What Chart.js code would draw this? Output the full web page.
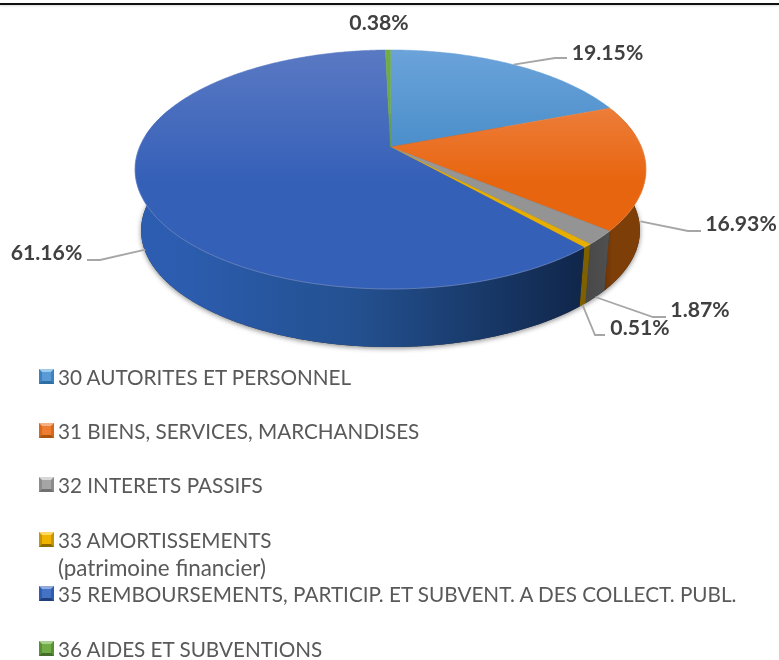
<!DOCTYPE html>
<html>
<head>
<meta charset="utf-8">
<title>Charges par nature</title>
<script src="https://cdn.jsdelivr.net/npm/chart.js@4/dist/chart.umd.min.js"></script>
<style>
    html, body { margin: 0; padding: 0; background: #fff; }
    #wrap { position: relative; width: 779px; height: 660px; overflow: hidden; }
    #top-rule { position: absolute; left: 0; right: 0; top: 3px; height: 2px; background: #111; box-shadow: 0 1px 2px rgba(0,0,0,.15); }
    #chart { position: absolute; left: 0; top: 0; }
    .legend-row { position: absolute; left: 39px; color: #595959; font: 20.7px Lato, sans-serif; line-height: 28px; white-space: nowrap; padding-left: 19px; }
    .legend-row .sub { display: block; font-size: 22.4px; }
    .swatch { position: absolute; left: 0; top: 6px; width: 9px; height: 9px; border-style: solid; border-width: 3px; }
</style>
</head>
<body>
<div id="wrap">
    <canvas id="chart" width="779" height="660"></canvas>
    <div id="top-rule"></div>
    <div id="legend"></div>
</div>
<script>
const categories = [
    '30 AUTORITES ET PERSONNEL',
    '31 BIENS, SERVICES, MARCHANDISES',
    '32 INTERETS PASSIFS',
    '33 AMORTISSEMENTS\n(patrimoine financier)',
    '35 REMBOURSEMENTS, PARTICIP. ET SUBVENT. A DES COLLECT. PUBL.',
    '36 AIDES ET SUBVENTIONS'
];
const shares = [19.15, 16.93, 1.87, 0.51, 61.16, 0.38];

// colours: top surface [upper, lower], side [left, right]
const topColors = [
    ['#6ba3da', '#3f87c4'],
    ['#f0905a', '#e8650f'],
    ['#a9a9a9', '#949494'],
    ['#ffc000', '#e8ae00'],
    ['#5a79c3', '#3560b8'],
    ['#70ad47', '#6aa543']
];
const sideColors = [
    ['#2e6a9c', '#2e6a9c'],
    ['#6b3305', '#7d3e08'],
    ['#484848', '#505050'],
    ['#7f6000', '#7f6000'],
    ['#2c5db0', '#10264a'],
    ['#44692b', '#44692b']
];
const swatchColors = [
    ['#9ccbee', '#3c82c0', '#2f6da5', '#5b9bd5'],
    ['#f4b183', '#d8691c', '#a9550f', '#ed7d31'],
    ['#d8d8d8', '#8c8c8c', '#707070', '#a5a5a5'],
    ['#ffd966', '#c69500', '#8f6c00', '#f0b400'],
    ['#8faadc', '#2f5bb0', '#203f7c', '#4472c4'],
    ['#a9d18e', '#5a8f38', '#456e2a', '#70ad47']
];

// perspective discs for the upper and lower faces of the pie
const PERSPECTIVE = 0.188;
const topDisc = { x: 390.5, y: 147, k: 251, h: 115.3 };
const baseDisc = { x: 390.5, y: 208.5, k: 245, h: 112.5 };

// label centre, position along the depth for the leader start, leader points
const labelLayout = [
    { x: 607.5, y: 53, depth: 0, leader: [[555, 58], [567, 58]] },
    { x: 741, y: 224, depth: 0.9, leader: [[688, 231], [701, 231]] },
    { x: 700, y: 310, depth: 1, leader: [[653, 317], [666, 317]] },
    { x: 640, y: 328, depth: 1, leader: [[595, 335], [605, 335]] },
    { x: 46.5, y: 253, depth: 0.95, leader: [[100, 260], [87, 260]] },
    { x: 379, y: 23, depth: 0, leader: [] }
];

function project(angle, disc) {
    const w = 1 - PERSPECTIVE * Math.sin(angle);
    return [disc.x + disc.k * Math.cos(angle) / w, disc.y + disc.h * Math.sin(angle) / w];
}

function traceArc(ctx, from, to, disc, first) {
    const steps = Math.max(2, Math.ceil(Math.abs(to - from) / 0.01));
    for (let i = 0; i <= steps; i++) {
        const p = project(from + (to - from) * i / steps, disc);
        if (i === 0 && first) ctx.moveTo(p[0], p[1]);
        else ctx.lineTo(p[0], p[1]);
    }
}

const pie3d = {
    id: 'pie3d',
    // the library computes the slice angles, this draws them in perspective
    beforeDatasetDraw(chart, args) {
        const ctx = chart.ctx;
        const arcs = args.meta.data;
        const front0 = -0.35;
        const front1 = Math.PI + 0.35;

        // soft shadow under the pie
        ctx.save();
        ctx.shadowColor = 'rgba(0,0,0,0.45)';
        ctx.shadowBlur = 5;
        ctx.shadowOffsetY = 1.5;
        ctx.fillStyle = '#333';
        ctx.beginPath();
        traceArc(ctx, 0, Math.PI * 2, baseDisc, true);
        ctx.closePath();
        ctx.fill();
        ctx.restore();

        // side walls
        arcs.forEach((arc, i) => {
            const a0 = Math.max(arc.startAngle, front0);
            const a1 = Math.min(arc.endAngle, front1);
            if (a1 <= a0) return;
            const g = ctx.createLinearGradient(Math.min(project(a1, baseDisc)[0], project(a0, baseDisc)[0]), 0, Math.max(project(a1, topDisc)[0], project(a0, topDisc)[0]), 0);
            g.addColorStop(0, sideColors[i][0]);
            if (i === 4) g.addColorStop(0.45, '#23508f');
            g.addColorStop(1, sideColors[i][1]);
            ctx.fillStyle = g;
            ctx.beginPath();
            traceArc(ctx, a0, a1, topDisc, true);
            traceArc(ctx, a1, a0, baseDisc, false);
            ctx.closePath();
            ctx.fill();
        });

        // upper face
        arcs.forEach((arc, i) => {
            ctx.fillStyle = arc.options.backgroundColor;
            ctx.strokeStyle = arc.options.backgroundColor;
            ctx.lineWidth = 0.5;
            ctx.beginPath();
            ctx.moveTo(topDisc.x, topDisc.y);
            traceArc(ctx, arc.startAngle, arc.endAngle, topDisc, false);
            ctx.closePath();
            ctx.fill();
            ctx.stroke();
        });

        // light rim along the front edge
        ctx.strokeStyle = 'rgba(255,255,255,0.22)';
        ctx.lineWidth = 1;
        ctx.beginPath();
        traceArc(ctx, -0.1, Math.PI + 0.1, topDisc, true);
        ctx.stroke();

        return false;
    },
    afterDatasetsDraw(chart) {
        const ctx = chart.ctx;
        const arcs = chart.getDatasetMeta(0).data;
        ctx.save();
        ctx.strokeStyle = '#a6a6a6';
        ctx.lineWidth = 1.8;
        ctx.fillStyle = '#404040';
        ctx.font = 'bold 21.2px Lato, sans-serif';
        ctx.textAlign = 'center';
        ctx.textBaseline = 'middle';
        arcs.forEach((arc, i) => {
            const spot = labelLayout[i];
            if (spot.leader.length) {
                const mid = (arc.startAngle + arc.endAngle) / 2;
                const a = project(mid, topDisc);
                const b = project(mid, baseDisc);
                ctx.beginPath();
                ctx.moveTo(a[0] + (b[0] - a[0]) * spot.depth, a[1] + (b[1] - a[1]) * spot.depth);
                spot.leader.forEach(p => ctx.lineTo(p[0], p[1]));
                ctx.stroke();
            }
            ctx.fillText(shares[i].toFixed(2) + '%', spot.x, spot.y);
        });
        ctx.restore();
    }
};

const canvas = document.getElementById('chart');
const c2d = canvas.getContext('2d');
const fills = topColors.map(pair => {
    const g = c2d.createLinearGradient(0, 50, 0, 289);
    g.addColorStop(0, pair[0]);
    g.addColorStop(0.55, pair[1]);
    g.addColorStop(1, pair[1]);
    return g;
});

new Chart(canvas, {
    type: 'pie',
    data: {
        labels: categories,
        datasets: [{ data: shares, backgroundColor: fills, borderWidth: 0 }]
    },
    options: {
        responsive: false,
        animation: false,
        events: [],
        plugins: { legend: { display: false }, tooltip: { enabled: false } }
    },
    plugins: [pie3d]
});

const legendBox = document.getElementById('legend');
const rowStep = 54.4;
categories.forEach((name, i) => {
    const row = document.createElement('div');
    row.className = 'legend-row';
    row.style.top = (362.5 + i * rowStep) + 'px';
    const lines = name.split('\n');
    row.textContent = lines[0];
    if (lines[1]) {
        const sub = document.createElement('span');
        sub.className = 'sub';
        sub.textContent = lines[1];
        row.appendChild(sub);
    }
    const mark = document.createElement('span');
    const col = swatchColors[i];
    mark.className = 'swatch';
    mark.style.borderColor = `${col[0]} ${col[1]} ${col[2]} ${col[1]}`;
    mark.style.background = col[3];
    row.appendChild(mark);
    legendBox.appendChild(row);
});
</script>
</body>
</html>
